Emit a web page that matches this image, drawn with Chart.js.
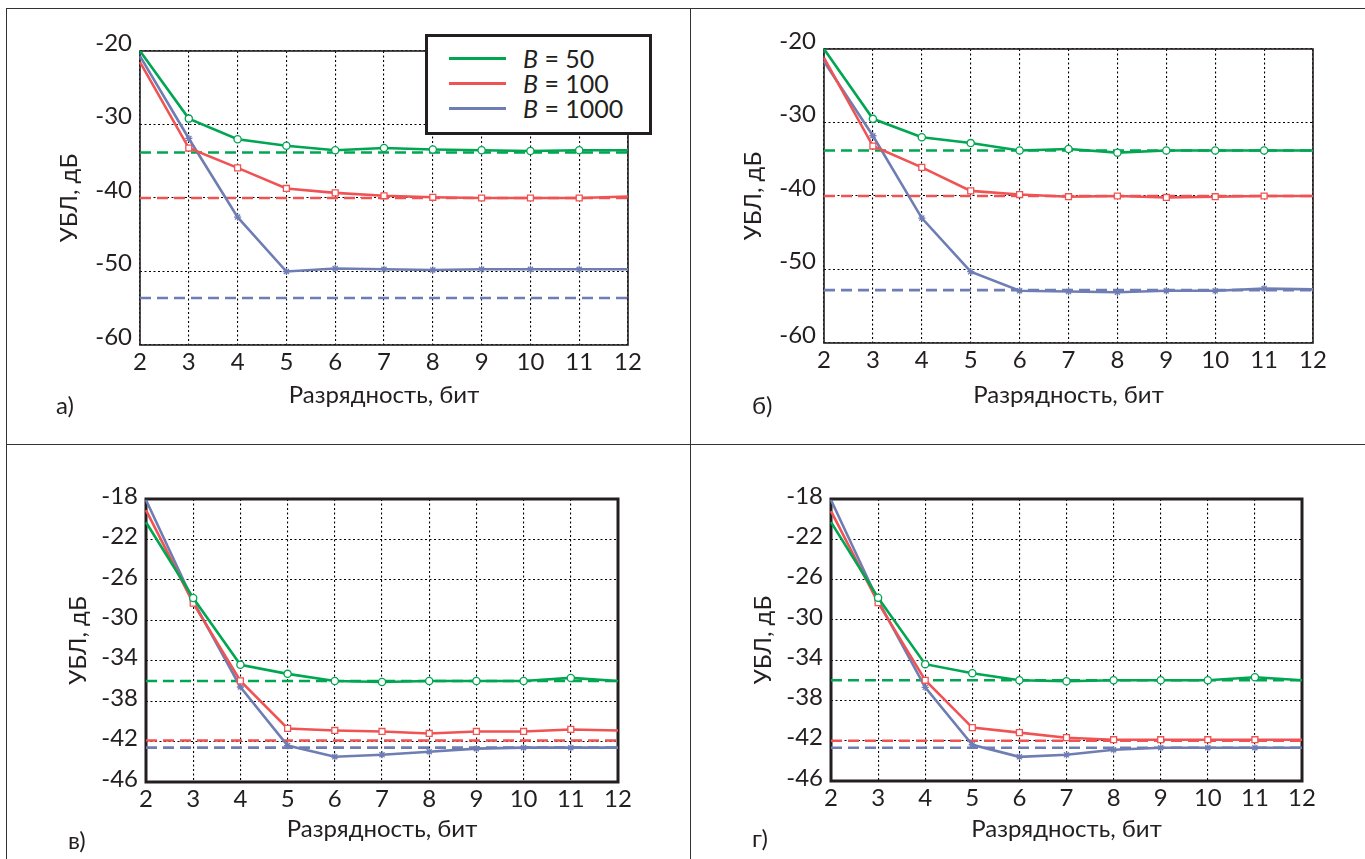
<!DOCTYPE html>
<html>
<head>
<meta charset="utf-8">
<script src="https://cdn.jsdelivr.net/npm/chart.js@4/dist/chart.umd.min.js"></script>
<style>
  body { margin: 0; background: #fff; width: 1365px; height: 859px; overflow: hidden; position: relative;
         font-family: Lato, sans-serif; color: #231f20; }
  canvas { position: absolute; left: 0; top: 0; }
  .rule { position: absolute; background: #333; }
  .tag { position: absolute; font-size: 24px; line-height: 24px; }
  #legend { position: absolute; left: 425px; top: 34px; width: 221px; height: 95px;
            border: 3px solid #231f20; background: #fff; }
  #legend .row { position: absolute; left: 0; height: 26px; width: 221px; }
  #legend .swatch { position: absolute; left: 21px; top: 12px; width: 57px; height: 3px; }
  #legend .txt { position: absolute; left: 95px; top: 0; font-size: 25px; line-height: 26px; }
</style>
</head>
<body>
<div class="rule" style="left:6px;top:8px;width:1359px;height:1px"></div>
<div class="rule" style="left:6px;top:8px;width:1px;height:851px"></div>
<div class="rule" style="left:690px;top:8px;width:1px;height:851px"></div>
<div class="rule" style="left:6px;top:444px;width:1359px;height:1px"></div>

<canvas id="chartA" width="1365" height="859"></canvas>
<canvas id="chartB" width="1365" height="859"></canvas>
<canvas id="chartC" width="1365" height="859"></canvas>
<canvas id="chartD" width="1365" height="859"></canvas>

<div class="tag" style="left:56px;top:393px">а)</div>
<div class="tag" style="left:752px;top:393px">б)</div>
<div class="tag" style="left:68px;top:828px">в)</div>
<div class="tag" style="left:752px;top:826px">г)</div>

<div id="legend"></div>

<script>
// разрядность, бит
const bits = [2, 3, 4, 5, 6, 7, 8, 9, 10, 11, 12]
const seriesNames = ["B = 50", "B = 100", "B = 1000"]

// а)
const a50 = [-20, -29.2, -32.0, -32.9, -33.5, -33.2, -33.4, -33.5, -33.6, -33.5, -33.5]
const a100 = [-21.5, -33.2, -35.9, -38.7, -39.3, -39.7, -39.9, -40.0, -40.0, -40.0, -39.8]
const a1000 = [-20.7, -31.9, -42.6, -50.0, -49.6, -49.7, -49.8, -49.7, -49.7, -49.7, -49.7]
const aLimits = [-33.8, -40.0, -53.6]

// б)
const b50 = [-20, -29.5, -32.0, -32.8, -33.8, -33.6, -34.1, -33.8, -33.8, -33.8, -33.8]
const b100 = [-21.2, -33.2, -36.1, -39.3, -39.8, -40.1, -40.0, -40.2, -40.1, -40.0, -40.0]
const b1000 = [-21.7, -31.8, -43.0, -50.3, -52.9, -53.0, -53.1, -52.9, -52.9, -52.6, -52.7]
const bLimits = [-33.8, -40.0, -52.8]

// в)
const c50 = [-20.3, -27.8, -34.4, -35.3, -36.0, -36.1, -36.0, -36.0, -36.0, -35.7, -36.0]
const c100 = [-19.1, -28.3, -36.0, -40.7, -40.9, -41.0, -41.2, -41.0, -41.0, -40.8, -40.9]
const c1000 = [-18.1, -28.1, -36.6, -42.4, -43.5, -43.3, -43.0, -42.7, -42.6, -42.6, -42.6]
const cLimits = [-36.0, -41.9, -42.6]

// г)
const d50 = [-20.3, -27.8, -34.4, -35.3, -36.0, -36.1, -36.0, -36.0, -36.0, -35.7, -36.0]
const d100 = [-19.2, -28.3, -36.0, -40.7, -41.2, -41.7, -41.9, -41.9, -41.9, -41.9, -41.9]
const d1000 = [-18.1, -28.1, -36.7, -42.4, -43.6, -43.4, -42.9, -42.7, -42.7, -42.7, -42.7]
const dLimits = [-36.0, -42.0, -42.7]

// оси
const topTicks = [-60, -50, -40, -30, -20]
const bottomTicks = [-46, -42, -38, -34, -30, -26, -22, -18]

const colors = ["#00a651", "#ef5353", "#6e7db3"]
const markers = ["circle", "rect", "star"]
const ink = "#231f20"

Chart.defaults.font.family = "Lato, sans-serif"
Chart.defaults.color = ink

const frame = {
  id: "frame",
  beforeDatasetsDraw(chart, args, opts) {
    const { ctx, chartArea: a } = chart
    ctx.save()
    ctx.strokeStyle = ink
    ctx.lineWidth = opts.width
    ctx.strokeRect(a.left, a.top, a.right - a.left, a.bottom - a.top)
    ctx.restore()
  },
}

function makePanel(id, series, limits, yTicks, box) {
  const datasets = []
  series.forEach((vals, i) => {
    datasets.push({
      label: seriesNames[i],
      data: bits.map((b, k) => ({ x: b, y: vals[k] })),
      borderColor: colors[i],
      backgroundColor: "#fff",
      borderWidth: 2.6,
      pointStyle: markers[i],
      pointRadius: bits.map((b) => (b === 2 || b === 12 ? 0 : i === 1 ? 4.2 : 3.6)),
      pointBorderWidth: 1.3,
      pointBorderColor: colors[i],
      tension: 0,
      clip: false,
      order: 1,
    })
    datasets.push({
      label: seriesNames[i] + " (предел)",
      data: [
        { x: bits[0], y: limits[i] },
        { x: bits[bits.length - 1], y: limits[i] },
      ],
      borderColor: colors[i],
      borderWidth: 2.6,
      borderDash: [11, 6],
      pointRadius: 0,
      clip: false,
      order: 2,
    })
  })

  const yMin = yTicks[0]
  const yMax = yTicks[yTicks.length - 1]
  const half = 14.4

  new Chart(document.getElementById(id), {
    type: "line",
    data: { datasets },
    plugins: [frame],
    options: {
      responsive: false,
      animation: false,
      events: [],
      layout: {
        padding: {
          left: box.yTitle - half,
          top: box.t,
          right: 1365 - box.r,
          bottom: 859 - (box.xTitle + half),
        },
      },
      plugins: {
        legend: { display: false },
        tooltip: { enabled: false },
        frame: { width: box.frame },
      },
      scales: {
        x: {
          type: "linear",
          min: bits[0],
          max: bits[bits.length - 1],
          ticks: { stepSize: 1, padding: 3, font: { size: 24 }, color: ink },
          grid: { color: "#000", lineWidth: 1.1, drawTicks: false },
          border: { display: false, dash: [2, 2.5] },
          title: { display: true, text: "Разрядность, бит", font: { size: 24 }, color: ink, padding: 0 },
          afterFit(s) { s.height = box.xTitle + half - box.b },
        },
        y: {
          min: yMin,
          max: yMax,
          afterBuildTicks(s) { s.ticks = yTicks.map((v) => ({ value: v })) },
          ticks: { padding: 8, labelOffset: box.lift, font: { size: 24 }, color: ink },
          grid: { color: "#000", lineWidth: 1.1, drawTicks: false },
          border: { display: false, dash: [2, 2.5] },
          title: { display: true, text: "УБЛ, дБ", font: { size: 24 }, color: ink, padding: 0 },
          afterFit(s) { s.width = box.l - (box.yTitle - half) },
        },
      },
    },
  })
}

makePanel("chartA", [a50, a100, a1000], aLimits, topTicks,
  { l: 140, t: 51, r: 628, b: 345, yTitle: 69, xTitle: 395, lift: -8, frame: 1.6 })
makePanel("chartB", [b50, b100, b1000], bLimits, topTicks,
  { l: 824, t: 49, r: 1313, b: 343, yTitle: 753, xTitle: 395, lift: -8, frame: 1.6 })
makePanel("chartC", [c50, c100, c1000], cLimits, bottomTicks,
  { l: 146, t: 499, r: 618, b: 782, yTitle: 78, xTitle: 829, lift: -3, frame: 3 })
makePanel("chartD", [d50, d100, d1000], dLimits, bottomTicks,
  { l: 831, t: 499, r: 1302, b: 781, yTitle: 763, xTitle: 829, lift: -3, frame: 3 })

// легенда
const legend = document.getElementById("legend")
const rowTops = [8, 33, 58]
seriesNames.forEach((name, i) => {
  const row = document.createElement("div")
  row.className = "row"
  row.style.top = rowTops[i] + "px"
  row.innerHTML =
    '<div class="swatch" style="background:' + colors[i] + '"></div>' +
    '<div class="txt"><i>B</i>' + name.slice(1) + "</div>"
  legend.appendChild(row)
})
</script>
</body>
</html>
